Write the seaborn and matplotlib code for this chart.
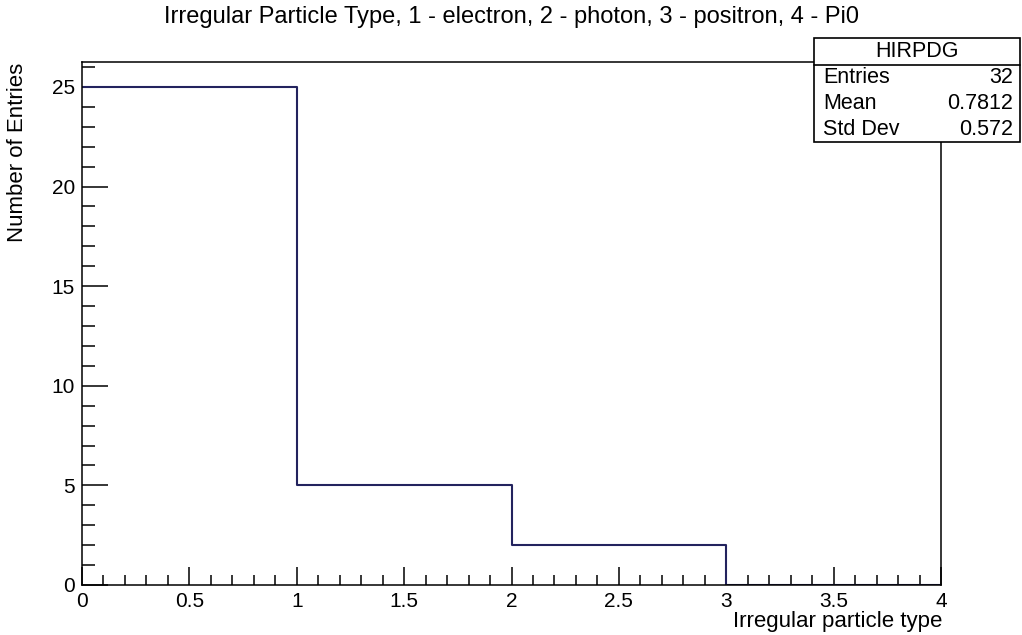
import numpy as np
import matplotlib.pyplot as plt
import seaborn as sns
from matplotlib.ticker import MultipleLocator

bin_edges = [0, 1, 2, 3, 4]
bin_counts = [25, 5, 2, 0]
stats_name = "HIRPDG"
stats_rows = [("Entries", "32"), ("Mean", "0.7812"), ("Std Dev", "0.572")]
title = "Irregular Particle Type, 1 - electron, 2 - photon, 3 - positron, 4 - Pi0"

sns.set_style("ticks")
plt.rcParams['font.family'] = ['Liberation Sans', 'DejaVu Sans']
for k in ["text.color", "axes.labelcolor", "xtick.color", "ytick.color", "axes.edgecolor"]:
    plt.rcParams[k] = "black"

W, H = 1022, 635
fig = plt.figure(figsize=(W / 100, H / 100), dpi=100)
ax = fig.add_axes([82 / W, 1 - 585 / H, (941 - 82) / W, (585 - 62) / H])

centers = [(a + b) / 2 for a, b in zip(bin_edges[:-1], bin_edges[1:])]
sns.histplot(x=centers, weights=bin_counts, bins=bin_edges, element="step",
             fill=False, color="#23235e", linewidth=1.5, ax=ax)

ax.set_xlim(0, 4)
ax.set_ylim(0, 26.25)
ax.xaxis.set_major_locator(MultipleLocator(0.5))
ax.xaxis.set_minor_locator(MultipleLocator(0.1))
ax.yaxis.set_major_locator(MultipleLocator(5))
ax.yaxis.set_minor_locator(MultipleLocator(1))
ax.xaxis.set_major_formatter(plt.FuncFormatter(lambda v, p: f"{v:g}"))
ax.tick_params(axis="x", which="major", direction="in", length=13, width=1.1, labelsize=15, pad=5)
ax.tick_params(axis="x", which="minor", direction="in", length=7.2, width=1.1)
ax.tick_params(axis="y", which="major", direction="in", length=18.7, width=1.1, labelsize=15, pad=5)
ax.tick_params(axis="y", which="minor", direction="in", length=9.4, width=1.1)
for s in ax.spines.values():
    s.set_visible(True)
    s.set_linewidth(1.1)
ax.set_xlabel("")
ax.set_ylabel("")

fig.text(942 / W, 1 - 622 / H, "Irregular particle type", ha="right", va="center", fontsize=16)
fig.text(18 / W, 1 - 63 / H, "Number of Entries", ha="center", va="top", rotation=90, fontsize=16)
fig.text(0.5, 1 - 17 / H, title, ha="center", va="center", fontsize=17)

# stats box
bx0, bx1 = 814 / W, 1020 / W
by_top, by_sep, by_bot = 1 - 38 / H, 1 - 65 / H, 1 - 142 / H
fig.patches.append(plt.Rectangle((bx0, by_bot), bx1 - bx0, by_top - by_bot,
                                 transform=fig.transFigure, facecolor="white",
                                 edgecolor="black", linewidth=1.2, zorder=5))
fig.add_artist(plt.Line2D([bx0, bx1], [by_sep, by_sep], transform=fig.transFigure,
                          color="black", linewidth=1.2, zorder=6))
fig.text((bx0 + bx1) / 2, (by_top + by_sep) / 2, stats_name, ha="center", va="center",
         fontsize=15.5, zorder=7)
row_h = (by_sep - by_bot) / len(stats_rows)
for i, (lab, val) in enumerate(stats_rows):
    yy = by_sep - row_h * (i + 0.5)
    fig.text(823 / W, yy, lab, ha="left", va="center", fontsize=15.5, zorder=7)
    fig.text(1013 / W, yy, val, ha="right", va="center", fontsize=15.5, zorder=7)

fig.savefig("out.png", dpi=100)
